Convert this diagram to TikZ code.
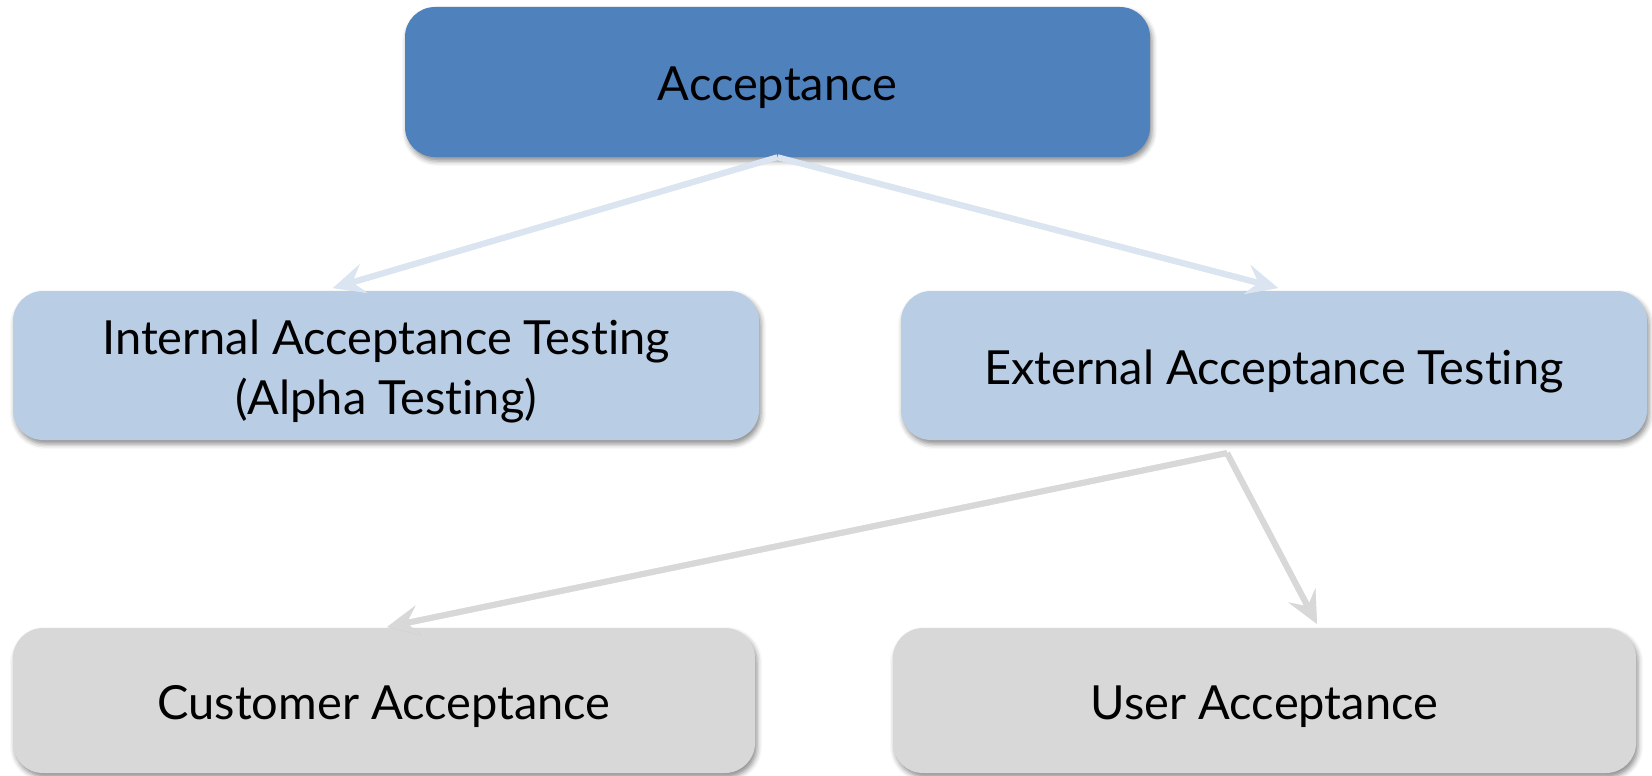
\documentclass[tikz,border=0pt]{standalone}
\usepackage{fontspec}
\setmainfont{Lato}[Ligatures={NoCommon}]
\usetikzlibrary{arrows.meta,shadows.blur}
\definecolor{topblue}{RGB}{79,129,189}
\definecolor{midblue}{RGB}{185,205,229}
\definecolor{lowgray}{RGB}{216,216,216}
\definecolor{bluelink}{RGB}{219,229,241}
\definecolor{graylink}{RGB}{216,216,216}
\tikzset{
  box/.style={rounded corners=30pt, inner sep=0pt,
    blur shadow={shadow xshift=2pt, shadow yshift=-4pt, shadow blur radius=5pt, shadow opacity=45}},
  caption/.style={align=center, text=black, inner sep=0pt, yshift=-6pt,
    font=\fontsize{47}{60}\selectfont},
  lvlone/.style={box, fill=topblue},
  lvltwo/.style={box, fill=midblue},
  lvlthree/.style={box, fill=lowgray},
  link/.style={line width=6pt, line join=miter,
    -{Stealth[length=32pt, width=30pt, inset=12pt]}},
  linkshade/.style={line width=6pt, draw=black, opacity=0.10,
    -{Stealth[length=32pt, width=30pt, inset=12pt]}},
}
\begin{document}
\begin{tikzpicture}[x=1pt, y=-1pt]
  \useasboundingbox (0,0) rectangle (1652,776);

  % boxes, each with its caption
  \node[lvlone, minimum width=745pt, minimum height=150pt,
    label={[caption]center:Acceptance}] (acc) at (777.5,82) {};
  \node[lvltwo, minimum width=746pt, minimum height=149pt,
    label={[caption]center:{Internal Acceptance Testing\\(Alpha Testing)}}] (int) at (386,365.5) {};
  \node[lvltwo, minimum width=746pt, minimum height=149pt,
    label={[caption]center:External Acceptance Testing}] (ext) at (1274,365.5) {};
  \node[lvlthree, minimum width=742pt, minimum height=145pt,
    label={[caption]center:Customer Acceptance}] (cust) at (384,700.5) {};
  \node[lvlthree, minimum width=743pt, minimum height=145pt,
    label={[caption]center:User Acceptance}] (user) at (1264.5,700.5) {};

  % connector end points
  \coordinate (tA) at (333,288);
  \coordinate (tB) at (1278,288);
  \coordinate (fork) at (1227,453);
  \coordinate (tC) at (387,627);
  \coordinate (tD) at (1317,624);

  % connector shadows
  \begin{scope}[shift={(2pt,-3pt)}]
    \draw[linkshade] (acc.south) -- (tA);
    \draw[linkshade] (acc.south) -- (tB);
    \draw[linkshade] (fork) -- (tC);
    \draw[linkshade] (fork) -- (tD);
  \end{scope}

  % connectors
  \draw[link, draw=bluelink, fill=bluelink] (acc.south) -- (tA);
  \draw[link, draw=bluelink, fill=bluelink] (acc.south) -- (tB);
  \draw[link, draw=graylink, fill=graylink] (fork) -- (tC);
  \draw[link, draw=graylink, fill=graylink] (fork) -- (tD);
\end{tikzpicture}
\end{document}
